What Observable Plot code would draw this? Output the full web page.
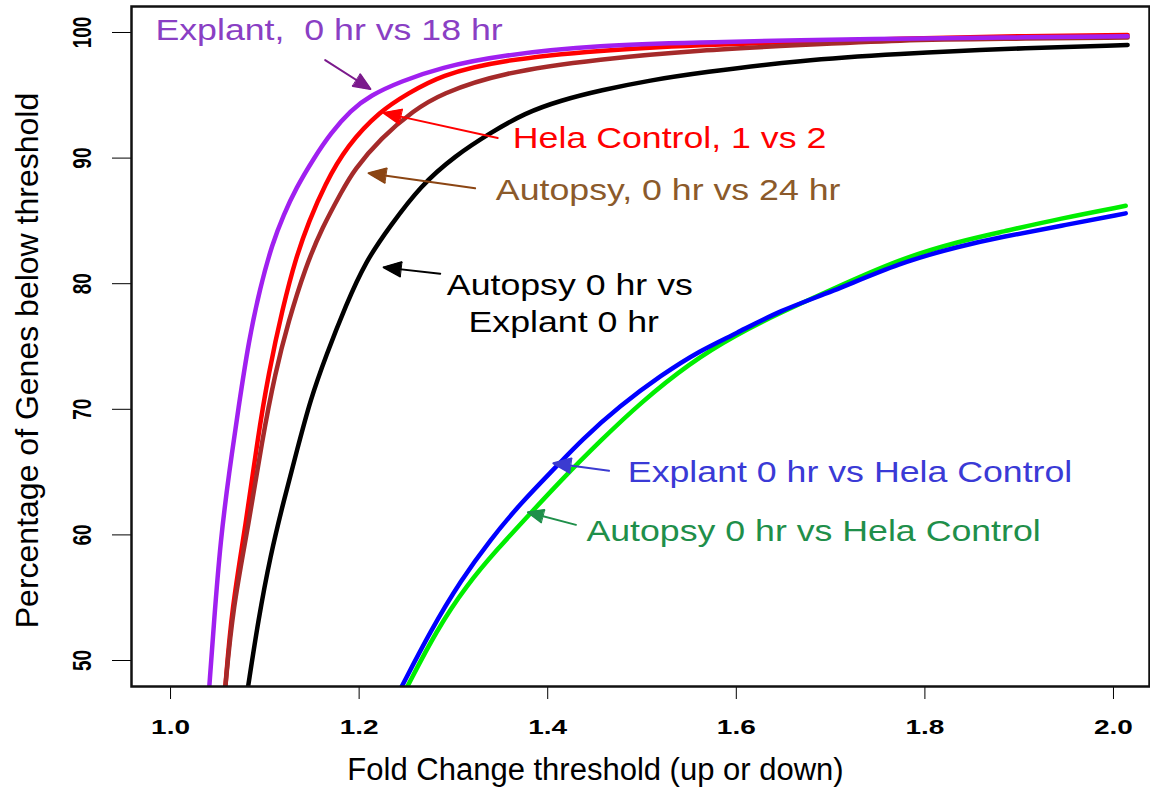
<!DOCTYPE html>
<html><head><meta charset="utf-8">
<script src="https://cdn.jsdelivr.net/npm/d3@7"></script>
<script src="https://cdn.jsdelivr.net/npm/@observablehq/plot@0.6"></script>
<style>
html,body{margin:0;padding:0;background:#fff;}
</style></head><body><div id="chart"></div>
<script>
// ---- axes ----
const xTicks = [1.0, 1.2, 1.4, 1.6, 1.8, 2.0];
const yTicks = [50, 60, 70, 80, 90, 100];
const xTitle = "Fold Change threshold (up or down)";
const yTitle = "Percentage of Genes below threshold";

// ---- series (fold-change threshold, % genes below threshold) ----
const explant18X = [1.041,1.046,1.053,1.062,1.072,1.083,1.095,1.108,1.120,1.133,1.152,1.170,1.191,1.212,1.244,1.286,1.350,1.456,1.562,1.668,1.774,1.880,2.015];
const explant18Y = [47.8,53.0,59.6,64.9,70.1,75.5,79.7,83.2,85.5,87.6,90.0,92.0,93.8,95.0,96.1,97.2,98.2,99.0,99.2,99.4,99.5,99.6,99.7];

const helaX = [1.058,1.065,1.080,1.092,1.104,1.119,1.133,1.147,1.163,1.187,1.223,1.251,1.286,1.350,1.456,1.562,1.668,1.774,1.880,2.015];
const helaY = [47.8,54.2,60.9,67.5,72.9,78.1,82.1,85.0,87.8,91.0,93.8,95.1,96.6,97.8,98.6,99.0,99.3,99.5,99.7,99.8];

const autopsy24X = [1.058,1.066,1.083,1.097,1.111,1.125,1.143,1.161,1.182,1.194,1.223,1.258,1.286,1.350,1.456,1.562,1.668,1.774,1.880,2.015];
const autopsy24Y = [47.8,54.2,60.9,67.5,72.9,77.0,81.3,84.5,87.4,89.0,91.6,93.8,95.1,96.8,97.9,98.6,99.0,99.4,99.5,99.6];

const autExpX = [1.082,1.093,1.106,1.120,1.134,1.148,1.165,1.186,1.207,1.233,1.265,1.302,1.339,1.376,1.414,1.456,1.509,1.562,1.668,1.774,1.880,2.015];
const autExpY = [47.8,53.2,58.4,62.7,66.7,70.7,74.3,78.3,81.8,84.6,87.8,90.2,92.0,93.6,94.6,95.4,96.2,96.8,97.8,98.3,98.7,99.0];

const expHelaX = [1.245,1.276,1.308,1.339,1.371,1.410,1.435,1.477,1.520,1.562,1.599,1.647,1.700,1.774,1.838,1.880,1.944,2.013];
const expHelaY = [47.9,52.4,56.4,59.6,62.5,65.5,67.5,70.3,72.7,74.7,76.0,77.9,79.3,81.7,83.0,83.7,84.6,85.6];

const autHelaX = [1.251,1.282,1.314,1.347,1.379,1.416,1.456,1.498,1.551,1.599,1.647,1.700,1.774,1.838,1.880,1.944,2.013];
const autHelaY = [47.9,52.4,56.0,58.9,61.5,64.5,67.5,70.5,73.7,75.9,77.7,79.5,82.0,83.4,84.1,85.2,86.2];

const seriesNames  = ["Autopsy 0 hr vs Hela Control","Explant 0 hr vs Hela Control","Autopsy 0 hr vs Explant 0 hr","Hela Control, 1 vs 2","Autopsy, 0 hr vs 24 hr","Explant, 0 hr vs 18 hr"];
const seriesColors = ["#00ee00","#0000ff","#000000","#ff0000","#a52a2a","#a020f0"];
const seriesXs = [autHelaX, expHelaX, autExpX, helaX, autopsy24X, explant18X];
const seriesYs = [autHelaY, expHelaY, autExpY, helaY, autopsy24Y, explant18Y];

// ---- annotations (data coordinates) ----
const annoText   = ["Explant,  0 hr vs 18 hr","Hela Control, 1 vs 2","Autopsy, 0 hr vs 24 hr","Autopsy 0 hr vs","Explant 0 hr","Explant 0 hr vs Hela Control","Autopsy 0 hr vs Hela Control"];
const annoX      = [0.984, 1.363, 1.345, 1.293, 1.316, 1.485, 1.441];
const annoY      = [100.2, 91.6, 87.4, 79.9, 76.9, 65.0, 60.3];
const annoColors = ["#8a3fc4","#ff0000","#8b5a2b","#000000","#000000","#3a3ad6","#1f8f4a"];

const arrowX1 = [1.164, 1.347, 1.323, 1.286, 1.465, 1.430];
const arrowY1 = [97.8, 91.6, 87.6, 80.8, 65.1, 60.8];
const arrowX2 = [1.212, 1.226, 1.210, 1.226, 1.406, 1.379];
const arrowY2 = [95.5, 93.6, 88.8, 81.3, 65.7, 61.8];
const arrowColors = ["#7b1a8c","#ff0000","#8b4513","#000000","#3b3bd0","#1f8f4a"];

// ---- build tables ----
const lineMarks = seriesNames.map((name, k) => {
  const rows = seriesXs[k].map((x, i) => ({series: name, x, y: seriesYs[k][i]}));
  return Plot.line(rows, {x: "x", y: "y", stroke: seriesColors[k], strokeWidth: 4.5, curve: "basis", clip: true, strokeLinejoin: "round"});
});
const annos = annoText.map((t, i) => ({t, x: annoX[i], y: annoY[i], c: annoColors[i]}));
const arrows = arrowX1.map((x1, i) => ({x1, y1: arrowY1[i], x2: arrowX2[i], y2: arrowY2[i], c: arrowColors[i]}));

const FONT = "'Liberation Sans', Arial, Helvetica, sans-serif";

const svg = Plot.plot({
  width: 1150,
  height: 788,
  marginLeft: 131,
  marginRight: 1,
  marginTop: 6,
  marginBottom: 102,
  style: {fontFamily: FONT, background: "#fff", color: "#000", overflow: "visible"},
  x: {domain: [0.9586, 2.0382], ticks: xTicks, tickSize: 13, tickFormat: () => "", label: null},
  y: {domain: [47.93, 102.07], ticks: yTicks, tickSize: 19, tickFormat: () => "", label: null},
  color: {type: "identity"},
  marks: [
    ...lineMarks,
    Plot.frame({stroke: "#111", strokeWidth: 2.5}),
    Plot.arrow(arrows, {x1: "x1", y1: "y1", x2: "x2", y2: "y2", stroke: "c", strokeWidth: 2, headLength: 14, headAngle: 45}),
    Plot.text(annos, {x: "x", y: "y", text: "t", fill: "c", textAnchor: "start", fontSize: 30, lineAnchor: "middle"}),
    Plot.text(xTicks, {x: d => d, text: d => d.toFixed(1), frameAnchor: "bottom", dy: 41.5, fontSize: 20, fontWeight: "bold", textAnchor: "middle", lineAnchor: "middle"}),
    Plot.text(yTicks, {y: d => d, text: d => String(d), frameAnchor: "left", dx: -49, rotate: -90, fontSize: 19, fontWeight: "bold", textAnchor: "middle", lineAnchor: "middle"}),
    Plot.text([xTitle], {text: d => d, frameAnchor: "bottom", dx: -45, dy: 84, fontSize: 31, textAnchor: "middle", lineAnchor: "middle"}),
    Plot.text([yTitle], {text: d => d, frameAnchor: "left", dx: -104, dy: 14, rotate: -90, fontSize: 32, textAnchor: "middle", lineAnchor: "middle"})
  ]
});
document.getElementById("chart").appendChild(svg);

// horizontal stretch of text glyphs (the reference rendering is horizontally stretched)
function stretch(nodes, s) {
  nodes.forEach(t => {
    const tr = t.getAttribute("transform");
    if (tr && /translate\(/.test(tr)) {
      t.setAttribute("transform", tr.replace(/(translate\([^)]*\))/, `$1 scale(${s},1)`));
    } else if (!tr) {
      const x = +t.getAttribute("x") || 0, y = +t.getAttribute("y") || 0;
      t.removeAttribute("x"); t.removeAttribute("y");
      t.setAttribute("transform", `translate(${x},${y}) scale(${s},1)`);
    }
  });
}
const textGroups = svg.querySelectorAll('g[aria-label="text"]');
// order: annotations, x tick labels, y tick labels, x title, y title
if (textGroups.length >= 3) {
  stretch(textGroups[0].querySelectorAll("text"), 1.19);
  stretch(textGroups[1].querySelectorAll("text"), 1.4);
  stretch(textGroups[2].querySelectorAll("text"), 1.4);
}
// filled arrowheads
svg.querySelectorAll('g[aria-label="arrow"] path').forEach(p => {
  try {
    const d = p.getAttribute("d");
    const parts = d.split("M").filter(s => s.length);
    if (parts.length >= 2) {
      const head = document.createElementNS("http://www.w3.org/2000/svg", "path");
      head.setAttribute("d", "M" + parts[parts.length - 1] + "Z");
      const c = p.getAttribute("stroke") || p.parentNode.getAttribute("stroke");
      head.setAttribute("fill", c);
      head.setAttribute("stroke", c);
      head.setAttribute("stroke-width", "1");
      p.parentNode.appendChild(head);
    }
  } catch (e) {}
});
</script>
</body></html>
